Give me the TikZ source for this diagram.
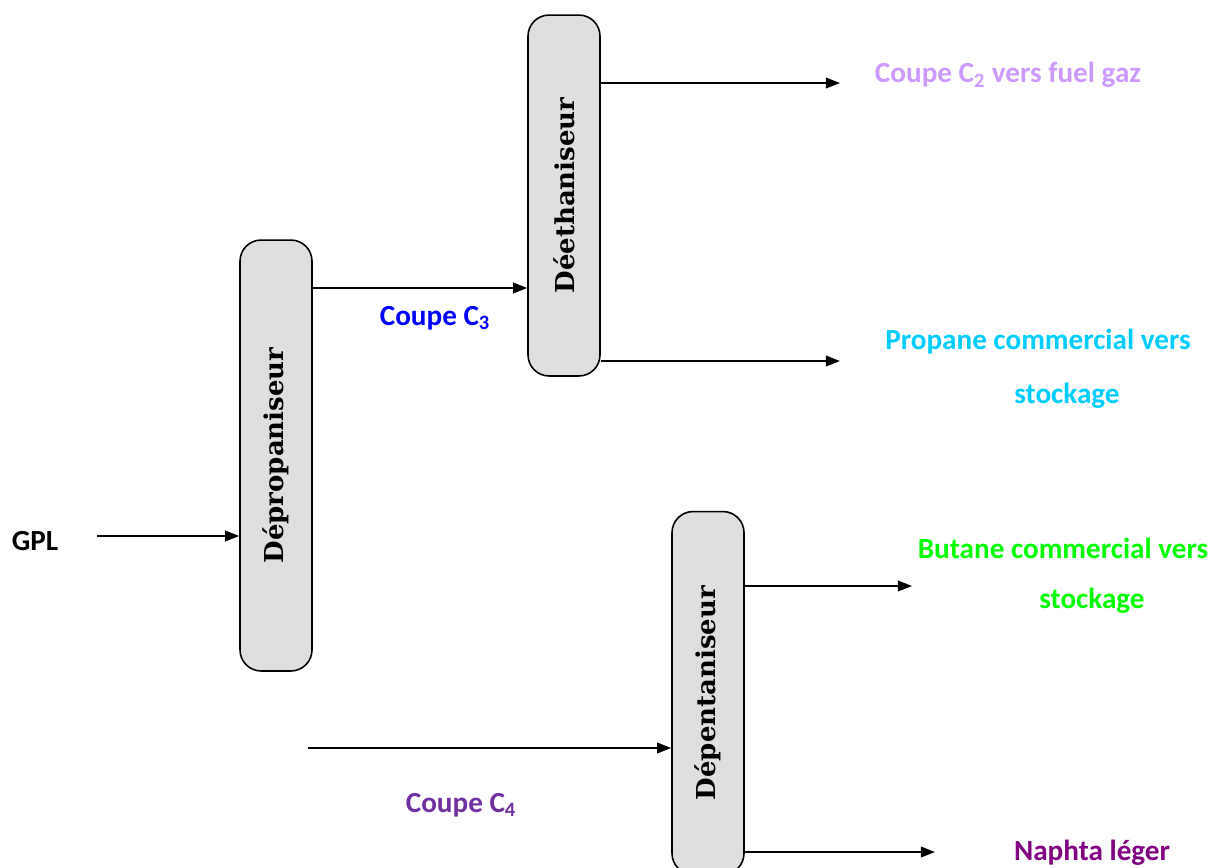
\documentclass[tikz,border=0pt]{standalone}
\usepackage{fontspec}
\setsansfont{Carlito}
\newfontfamily\colfont{DejaVu Serif}
\usepackage{xcolor}
\usetikzlibrary{arrows.meta, calc, positioning}
\definecolor{ctwo}{HTML}{CC99FF}
\definecolor{cthree}{HTML}{0000FF}
\definecolor{cfour}{HTML}{7030A0}
\definecolor{propane}{HTML}{00CCFF}
\definecolor{butane}{HTML}{00FF00}
\definecolor{naphta}{HTML}{800080}

\begin{document}
\begin{tikzpicture}[x=0.02cm, y=-0.02cm,
  column/.style={draw, line width=0.9pt, fill=gray!25, rounded corners=12pt, minimum width=1.44cm, inner sep=0pt, font=\colfont\bfseries\fontsize{14.8}{17}\selectfont},
  flow/.style={line width=1.1pt, -{Triangle[length=8pt, width=6pt]}},
  lab/.style={font=\sffamily\bfseries\fontsize{16.6}{20}\selectfont}]

\useasboundingbox (0,0) rectangle (1211,867);

% Columns
\node[column, minimum height=8.62cm] (deprop) at (276,455.5) {\rotatebox{90}{Dépropaniseur}};
\node[column, minimum height=7.22cm] (deeth) at (564,195.5) {\rotatebox{90}{Déethaniseur}};
\node[column, minimum height=7.26cm] (depent) at (708,693) {\rotatebox{90}{Dépentaniseur}};

% Feed
\node[lab] (gpl) at (35,541) {GPL};
\coordinate (gplstart) at (97,536);
\draw[flow] (gplstart) -- (gplstart -| deprop.west);

% Coupe C3 to deethaniseur
\coordinate (cthreeline) at (0,288);
\draw[flow] (deprop.east |- cthreeline) -- (deeth.west |- cthreeline);
\node[lab, text=cthree] (cthreelab) at (435,318) {Coupe C\textsubscript{3}};

% Deethaniseur products
\coordinate (ctwoend) at (840,83);
\draw[flow] (deeth.east |- ctwoend) -- (ctwoend);
\node[lab, text=ctwo] (ctwolab) at (1008,75) {Coupe C\textsubscript{2} vers fuel gaz};

\coordinate (propend) at (840,361);
\draw[flow] (deeth.east |- propend) -- (propend);
\node[lab, text=propane] (propa) at (1038,342) {Propane commercial vers};
\node[lab, text=propane] (propb) at (1067,396) {stockage};

% Coupe C4 to depentaniseur
\coordinate (cfourstart) at (308,748);
\draw[flow] (cfourstart) -- (cfourstart -| depent.west);
\node[lab, text=cfour] (cfourlab) at (461,805) {Coupe C\textsubscript{4}};

% Depentaniseur products
\coordinate (butend) at (912,586);
\draw[flow] (depent.east |- butend) -- (butend);
\node[lab, text=butane] (buta) at (1063,548) {Butane commercial vers};
\node[lab, text=butane] (butb) at (1092,601) {stockage};

\coordinate (naphend) at (935,852);
\draw[flow] (depent.east |- naphend) -- (naphend);
\node[lab, text=naphta] (naphlab) at (1092,853) {Naphta léger};
\end{tikzpicture}
\end{document}
